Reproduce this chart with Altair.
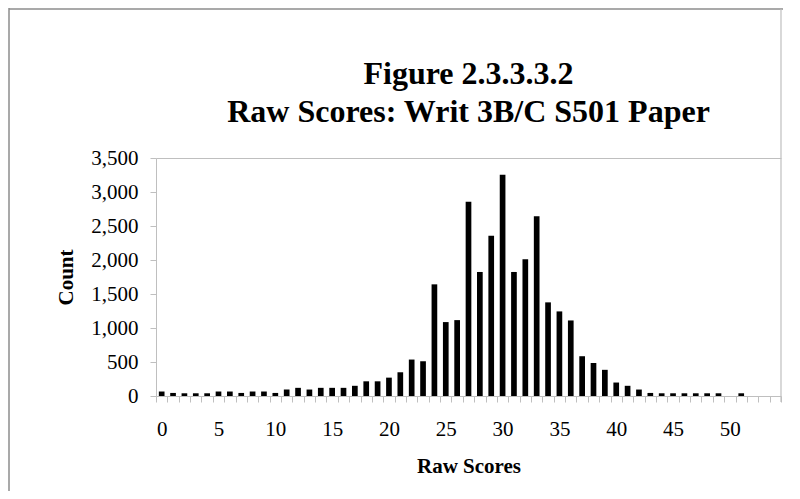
import altair as alt
import pandas as pd

scores = list(range(55))
counts = [66, 45, 40, 40, 40, 66, 66, 45, 66, 66,
          45, 95, 120, 95, 120, 120, 120, 150, 216, 216,
          270, 349, 536, 511, 1642, 1087, 1116, 2857, 1824, 2355,
          3255, 1824, 2011, 2645, 1377, 1244, 1111, 585, 485, 385,
          198, 150, 95, 45, 40, 40, 40, 40, 40, 40,
          0, 40, 0, 0, 0]
y_ticks = [0, 500, 1000, 1500, 2000, 2500, 3000, 3500]
title_line1 = "Figure 2.3.3.3.2"
title_line2 = "Raw Scores: Writ 3B/C S501 Paper"
x_title = "Raw Scores"
y_title = "Count"

df = pd.DataFrame({"score": scores, "count": counts})
FONT = "Liberation Serif"
AXIS_GRAY = "#bfbfbf"
FRAME_GRAY = "#8c8c8c"
W, H = 625, 238

bars = alt.Chart(df).mark_bar(color="black", width=alt.RelativeBandSize(0.5)).encode(
    x=alt.X("score:O", sort=scores,
            scale=alt.Scale(paddingInner=0, paddingOuter=0),
            axis=alt.Axis(title=x_title, labelAngle=0, tickBand="extent",
                          labelExpr="datum.value % 5 == 0 ? datum.label : ''",
                          labelOverlap=False, labelPadding=16, titlePadding=16)),
    y=alt.Y("count:Q", scale=alt.Scale(domain=[0, y_ticks[-1]], nice=False),
            axis=alt.Axis(title=y_title, values=y_ticks, format=",d", grid=True,
                          gridColor=AXIS_GRAY,
                          gridOpacity=alt.condition(f"datum.value == {y_ticks[-1]}", alt.value(1), alt.value(0)),
                          labelPadding=12, titlePadding=14)),
)

title1 = alt.Chart(pd.DataFrame({"t": [title_line1]})).mark_text(
    font=FONT, fontSize=32, fontWeight="bold", color="black", align="center", baseline="alphabetic"
).encode(text="t:N", x=alt.value(W / 2), y=alt.value(-74))
title2 = alt.Chart(pd.DataFrame({"t": [title_line2]})).mark_text(
    font=FONT, fontSize=32, fontWeight="bold", color="black", align="center", baseline="alphabetic"
).encode(text="t:N", x=alt.value(W / 2), y=alt.value(-36))

frame_left = alt.Chart(pd.DataFrame({"v": [0]})).mark_rule(color=FRAME_GRAY, strokeWidth=1.5).encode(
    x=alt.value(-147), y=alt.value(-150), y2=alt.value(400)
)
frame_top = alt.Chart(pd.DataFrame({"v": [0]})).mark_rule(color=FRAME_GRAY, strokeWidth=1.5).encode(
    x=alt.value(-147), x2=alt.value(W + 2), y=alt.value(-149)
)
frame_right = alt.Chart(pd.DataFrame({"v": [0]})).mark_rule(color=AXIS_GRAY, strokeWidth=1.2).encode(
    x=alt.value(W), y=alt.value(-149), y2=alt.value(H + 6)
)

chart = alt.layer(bars, title1, title2, frame_left, frame_top, frame_right).properties(
    width=W,
    height=H,
    padding={"left": 148, "top": 150, "right": 11, "bottom": 95},
    autosize=alt.AutoSizeParams(type="none"),
).configure_view(stroke=None).configure_axis(
    domainColor=AXIS_GRAY, tickColor=AXIS_GRAY, tickSize=6,
    labelFont=FONT, labelFontSize=21, labelColor="black",
    titleFont=FONT, titleFontSize=21, titleFontWeight="bold", titleColor="black",
)

chart.save("out.html", embed_options={"renderer": "svg", "actions": False})
